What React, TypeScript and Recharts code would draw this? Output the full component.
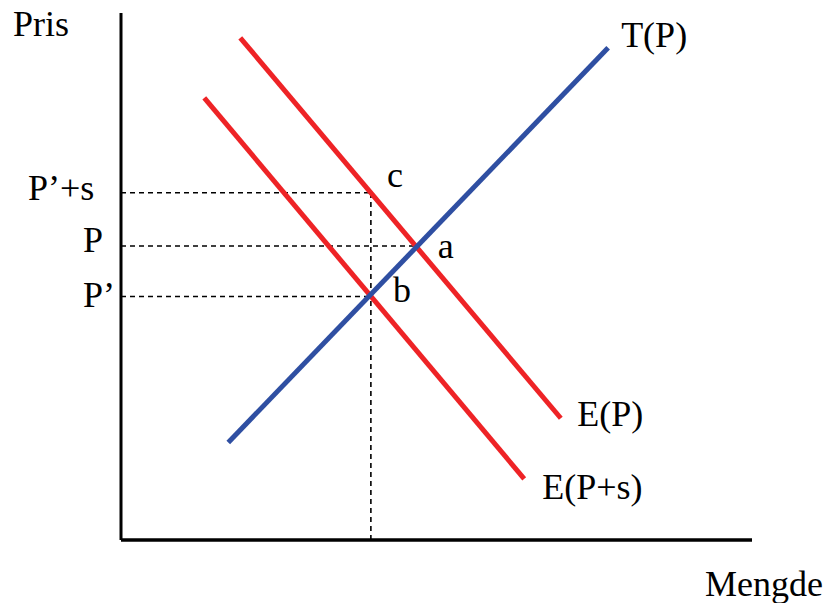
import React from "react";
import { LineChart, Line, XAxis, YAxis, ReferenceLine, ReferenceDot } from "recharts";

// Quantity (x) and price (y) in abstract units, 0..100
const supplyQ = [17.0, 77.2];
const supplyP = [18.5, 93.4];
const demandQ = [18.9, 69.7];
const demandP = [95.3, 23.1];
const demandSubQ = [13.2, 63.9];
const demandSubP = [83.9, 11.6];

const priceLevels = { pPlusS: 65.9, p: 55.8, pPrime: 46.2 };
const qtyB = 39.6;
const qtyA = 46.8;

const toRows = (qs: number[], ps: number[]) => qs.map((q, i) => ({ q, p: ps[i] }));
const supplyData = toRows(supplyQ, supplyP);
const demandData = toRows(demandQ, demandP);
const demandSubData = toRows(demandSubQ, demandSubP);

const FONT = "'Liberation Serif', 'Times New Roman', serif";

const makeLabel = (text: string, dx: number, dy: number) => (props: any) => {
  const vb = props.viewBox || {};
  const x = (vb.x ?? vb.cx ?? 0) + (vb.width ? vb.width / 2 : 0);
  const y = (vb.y ?? vb.cy ?? 0) + (vb.height ? vb.height / 2 : 0);
  return (
    <text x={x + dx} y={y + dy} fontFamily={FONT} fontSize={36} fill="#000" textAnchor="start">
      {text}
    </text>
  );
};

const RED = "#EE2326";
const BLUE = "#2F4FA2";
const DASH = { stroke: "#000", strokeWidth: 1.6, strokeDasharray: "5 4" };

export default function App() {
  return (
    <div style={{ position: "absolute", left: 0, top: 0, width: 829, height: 603, background: "#fff" }}>
      <LineChart width={829} height={603} margin={{ left: 121, right: 77, top: 13, bottom: 63 }}>
        <XAxis dataKey="q" type="number" domain={[0, 100]} hide allowDataOverflow />
        <YAxis type="number" domain={[0, 100]} hide allowDataOverflow />

        {/* dashed guides */}
        <ReferenceLine segment={[{ x: 0, y: priceLevels.pPlusS }, { x: qtyB, y: priceLevels.pPlusS }]} {...DASH} />
        <ReferenceLine segment={[{ x: 0, y: priceLevels.p }, { x: qtyA, y: priceLevels.p }]} {...DASH} />
        <ReferenceLine segment={[{ x: 0, y: priceLevels.pPrime }, { x: qtyB, y: priceLevels.pPrime }]} {...DASH} />
        <ReferenceLine segment={[{ x: qtyB, y: 0 }, { x: qtyB, y: priceLevels.pPlusS }]} {...DASH} />

        {/* axes */}
        <ReferenceLine x={0} stroke="#000" strokeWidth={3} />
        <ReferenceLine y={0} stroke="#000" strokeWidth={3.5} />

        <Line data={demandData} dataKey="p" stroke={RED} strokeWidth={5} dot={false} activeDot={false} isAnimationActive={false} />
        <Line data={demandSubData} dataKey="p" stroke={RED} strokeWidth={5} dot={false} activeDot={false} isAnimationActive={false} />
        <Line data={supplyData} dataKey="p" stroke={BLUE} strokeWidth={5} dot={false} activeDot={false} isAnimationActive={false} />

        {/* labels */}
        <ReferenceDot x={0} y={100} r={0} fill="none" stroke="none" ifOverflow="visible" label={{ content: makeLabel("Pris", -108, 23) }} />
        <ReferenceDot x={100} y={0} r={0} fill="none" stroke="none" ifOverflow="visible" label={{ content: makeLabel("Mengde", -47, 56) }} />
        <ReferenceDot x={0} y={priceLevels.pPlusS} r={0} fill="none" stroke="none" ifOverflow="visible" label={{ content: makeLabel("P’+s", -93, 7.5) }} />
        <ReferenceDot x={0} y={priceLevels.p} r={0} fill="none" stroke="none" ifOverflow="visible" label={{ content: makeLabel("P", -38, 6) }} />
        <ReferenceDot x={0} y={priceLevels.pPrime} r={0} fill="none" stroke="none" ifOverflow="visible" label={{ content: makeLabel("P’", -38, 10.5) }} />
        <ReferenceDot x={supplyQ[1]} y={supplyP[1]} r={0} fill="none" stroke="none" ifOverflow="visible" label={{ content: makeLabel("T(P)", 13, -1) }} />
        <ReferenceDot x={demandQ[1]} y={demandP[1]} r={0} fill="none" stroke="none" ifOverflow="visible" label={{ content: makeLabel("E(P)", 16.5, 7.5) }} />
        <ReferenceDot x={demandSubQ[1]} y={demandSubP[1]} r={0} fill="none" stroke="none" ifOverflow="visible" label={{ content: makeLabel("E(P+s)", 18, 20) }} />
        <ReferenceDot x={qtyB} y={priceLevels.pPlusS} r={0} fill="none" stroke="none" ifOverflow="visible" label={{ content: makeLabel("c", 16, -5.5) }} />
        <ReferenceDot x={qtyA} y={priceLevels.p} r={0} fill="none" stroke="none" ifOverflow="visible" label={{ content: makeLabel("a", 21.5, 12) }} />
        <ReferenceDot x={qtyB} y={priceLevels.pPrime} r={0} fill="none" stroke="none" ifOverflow="visible" label={{ content: makeLabel("b", 22, 5.5) }} />
      </LineChart>
    </div>
  );
}
